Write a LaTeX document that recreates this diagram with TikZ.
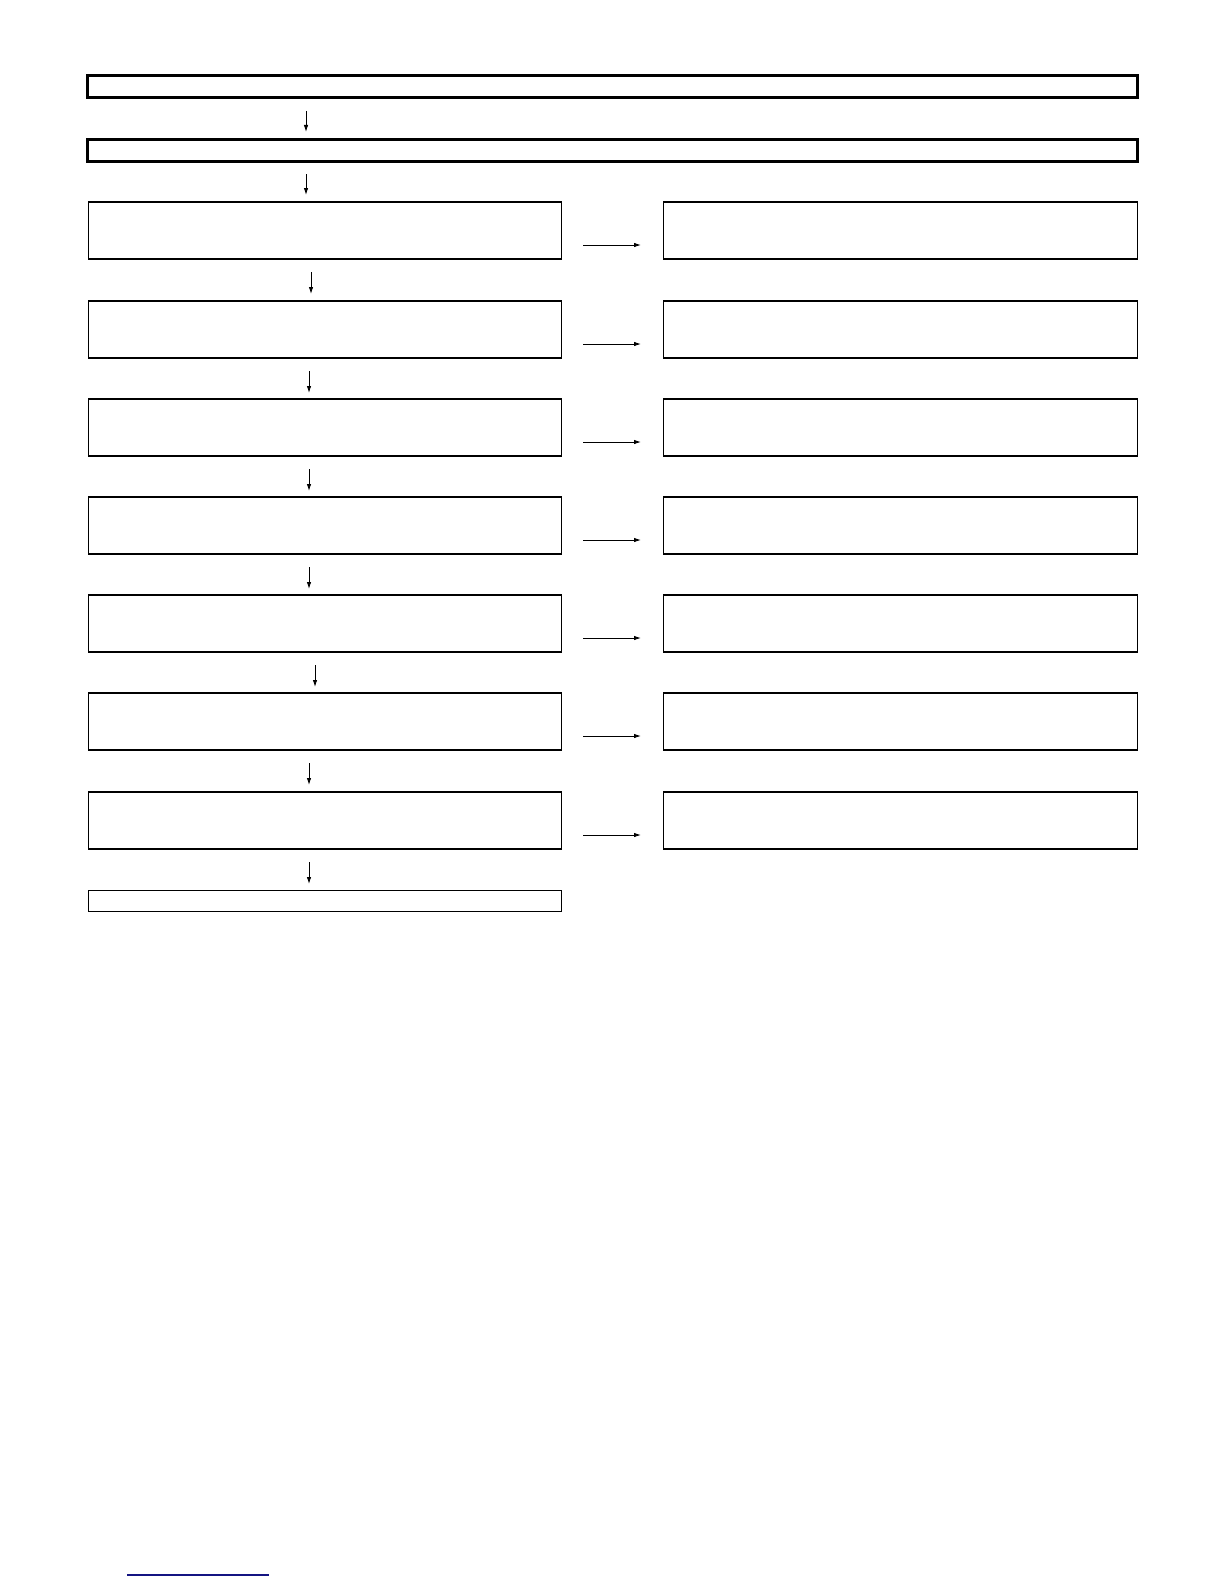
\documentclass[tikz,border=0pt]{standalone}
\usetikzlibrary{arrows.meta}
\begin{document}
\begin{tikzpicture}[x=1bp,y=-1bp,
  thickbox/.style={draw=black,line width=3bp,inner sep=0pt,outer sep=0pt,anchor=north west,minimum width=1050bp,minimum height=22bp},
  stepbox/.style={draw=black,line width=1.4bp,inner sep=0pt,outer sep=0pt,anchor=north west,minimum width=473bp,minimum height=57bp},
  flow/.style={draw=black,line width=0.9bp,-{Latex[length=7bp,width=4.5bp]}}]
\useasboundingbox (0,0) rectangle (1224,1584);
\node[thickbox] (A) at (87.5,75.5) {};
\node[thickbox] (B) at (87.5,139.5) {};
\coordinate (a1s) at (306,111); \coordinate (a1e) at (306,132);
\coordinate (a2s) at (306,174); \coordinate (a2e) at (306,195);
\draw[flow] (a1s) -- (a1e);
\draw[flow] (a2s) -- (a2e);
% rows
\foreach \i/\y/\vx in {1/202/311,2/301/309,3/399/309,4/497/309,5/595/315,6/693/309,7/792/309}{
  \node[stepbox] (L\i) at (88.5,\y) {};
  \node[stepbox,minimum width=474bp] (R\i) at (663.5,\y) {};
  \coordinate (h\i s) at (583,\y+43);
  \coordinate (h\i e) at (641,\y+43);
  \draw[flow] (h\i s) -- (h\i e);
  \coordinate (v\i s) at (\vx,\y+70);
  \coordinate (v\i e) at (\vx,\y+92);
  \draw[flow] (v\i s) -- (v\i e);
}
\node[stepbox,minimum height=21bp] (E) at (88.5,890.5) {};
\coordinate (bl1) at (127,1575); \coordinate (bl2) at (269,1575);
\draw[line width=1.2bp,color={rgb,255:red,20;green,20;blue,130}] (bl1) -- (bl2);
\end{tikzpicture}
\end{document}
